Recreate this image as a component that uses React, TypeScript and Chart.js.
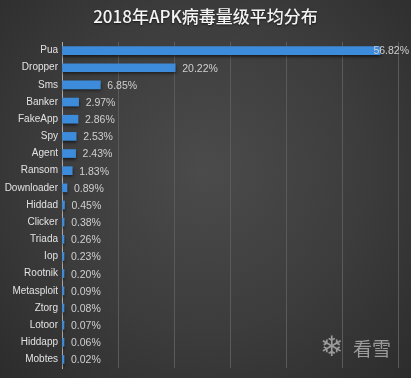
import React, { useEffect, useRef } from "react";
import { Chart, registerables } from "chart.js";

Chart.register(...registerables);

const categories = ["Pua", "Dropper", "Sms", "Banker", "FakeApp", "Spy", "Agent", "Ransom", "Downloader", "Hiddad", "Clicker", "Triada", "Iop", "Rootnik", "Metasploit", "Ztorg", "Lotoor", "Hiddapp", "Mobtes"];
const values = [56.82, 20.22, 6.85, 2.97, 2.86, 2.53, 2.43, 1.83, 0.89, 0.45, 0.38, 0.26, 0.23, 0.2, 0.09, 0.08, 0.07, 0.06, 0.02];
const titleText = "2018年APK病毒量级平均分布";
const watermarkText = "看雪";

const overlay = {
  id: "overlay",
  beforeDatasetsDraw(chart: any) {
    const ctx = chart.ctx;
    ctx.save();
    ctx.shadowColor = "rgba(0,0,0,0.55)";
    ctx.shadowBlur = 3;
    ctx.shadowOffsetY = 2;
  },
  afterDatasetsDraw(chart: any) {
    const ctx = chart.ctx;
    ctx.restore();
    const meta = chart.getDatasetMeta(0);
    ctx.save();
    ctx.font = "10.5px 'Liberation Sans', Arial, sans-serif";
    ctx.fillStyle = "#cfcfcf";
    ctx.textBaseline = "middle";
    meta.data.forEach((bar: any, i: number) => {
      const t = values[i].toFixed(2) + "%";
      const w = ctx.measureText(t).width;
      let x = bar.x + 7;
      if (x + w > chart.width - 2) x = chart.width - 2 - w;
      ctx.fillText(t, x, bar.y + 1);
    });
    // title
    ctx.font = "500 17px 'Noto Sans CJK SC', sans-serif";
    ctx.fillStyle = "#f4f4f4";
    ctx.textAlign = "center";
    ctx.shadowColor = "rgba(0,0,0,0.6)";
    ctx.shadowBlur = 2;
    ctx.shadowOffsetY = 1;
    ctx.fillText(titleText, chart.width / 2, 17);
    ctx.shadowColor = "transparent";
    // watermark
    ctx.textAlign = "left";
    ctx.fillStyle = "rgba(200,200,200,0.7)";
    ctx.font = "28px 'DejaVu Sans', sans-serif";
    ctx.fillText("\u2744", 320, 349);
    ctx.font = "19px 'Noto Sans CJK SC', serif";
    ctx.fillText(watermarkText, 353, 349);
    ctx.restore();
  },
};

export default function App() {
  const ref = useRef<HTMLCanvasElement>(null);
  useEffect(() => {
    if (!ref.current) return;
    const chart = new Chart(ref.current, {
      type: "bar",
      data: {
        labels: categories,
        datasets: [
          {
            data: values,
            backgroundColor: "#3d8bdb",
            borderWidth: 0,
            barThickness: 8,
            minBarLength: 2,
          },
        ],
      },
      options: {
        indexAxis: "y",
        animation: false,
        responsive: false,
        maintainAspectRatio: false,
        layout: { padding: { top: 42, right: 13, bottom: 10, left: 0 } },
        plugins: { legend: { display: false }, title: { display: false }, tooltip: { enabled: false } },
        scales: {
          x: {
            min: 0,
            max: 60,
            ticks: { display: false, stepSize: 10 },
            grid: { color: "#5a5a5a", drawTicks: false, lineWidth: 1 },
            border: { display: false },
          },
          y: {
            afterFit: (s: any) => {
              s.width = 62;
            },
            grid: { display: false, drawTicks: false },
            border: { color: "#a8a8a8", width: 1 },
            ticks: {
              color: "#e2e2e2",
              padding: 4,
              font: { size: 10, family: "'Liberation Sans', Arial, sans-serif" },
            },
          },
        },
      },
      plugins: [overlay],
    });
    return () => chart.destroy();
  }, []);
  return (
    <div
      style={{
        position: "fixed",
        left: 0,
        top: 0,
        width: 411,
        height: 378,
        background: "radial-gradient(ellipse at 50% 45%, #4b4b4b 0%, #3c3c3c 55%, #2c2c2c 100%)",
      }}
    >
      <canvas ref={ref} width={411} height={378} style={{ display: "block" }} />
    </div>
  );
}
